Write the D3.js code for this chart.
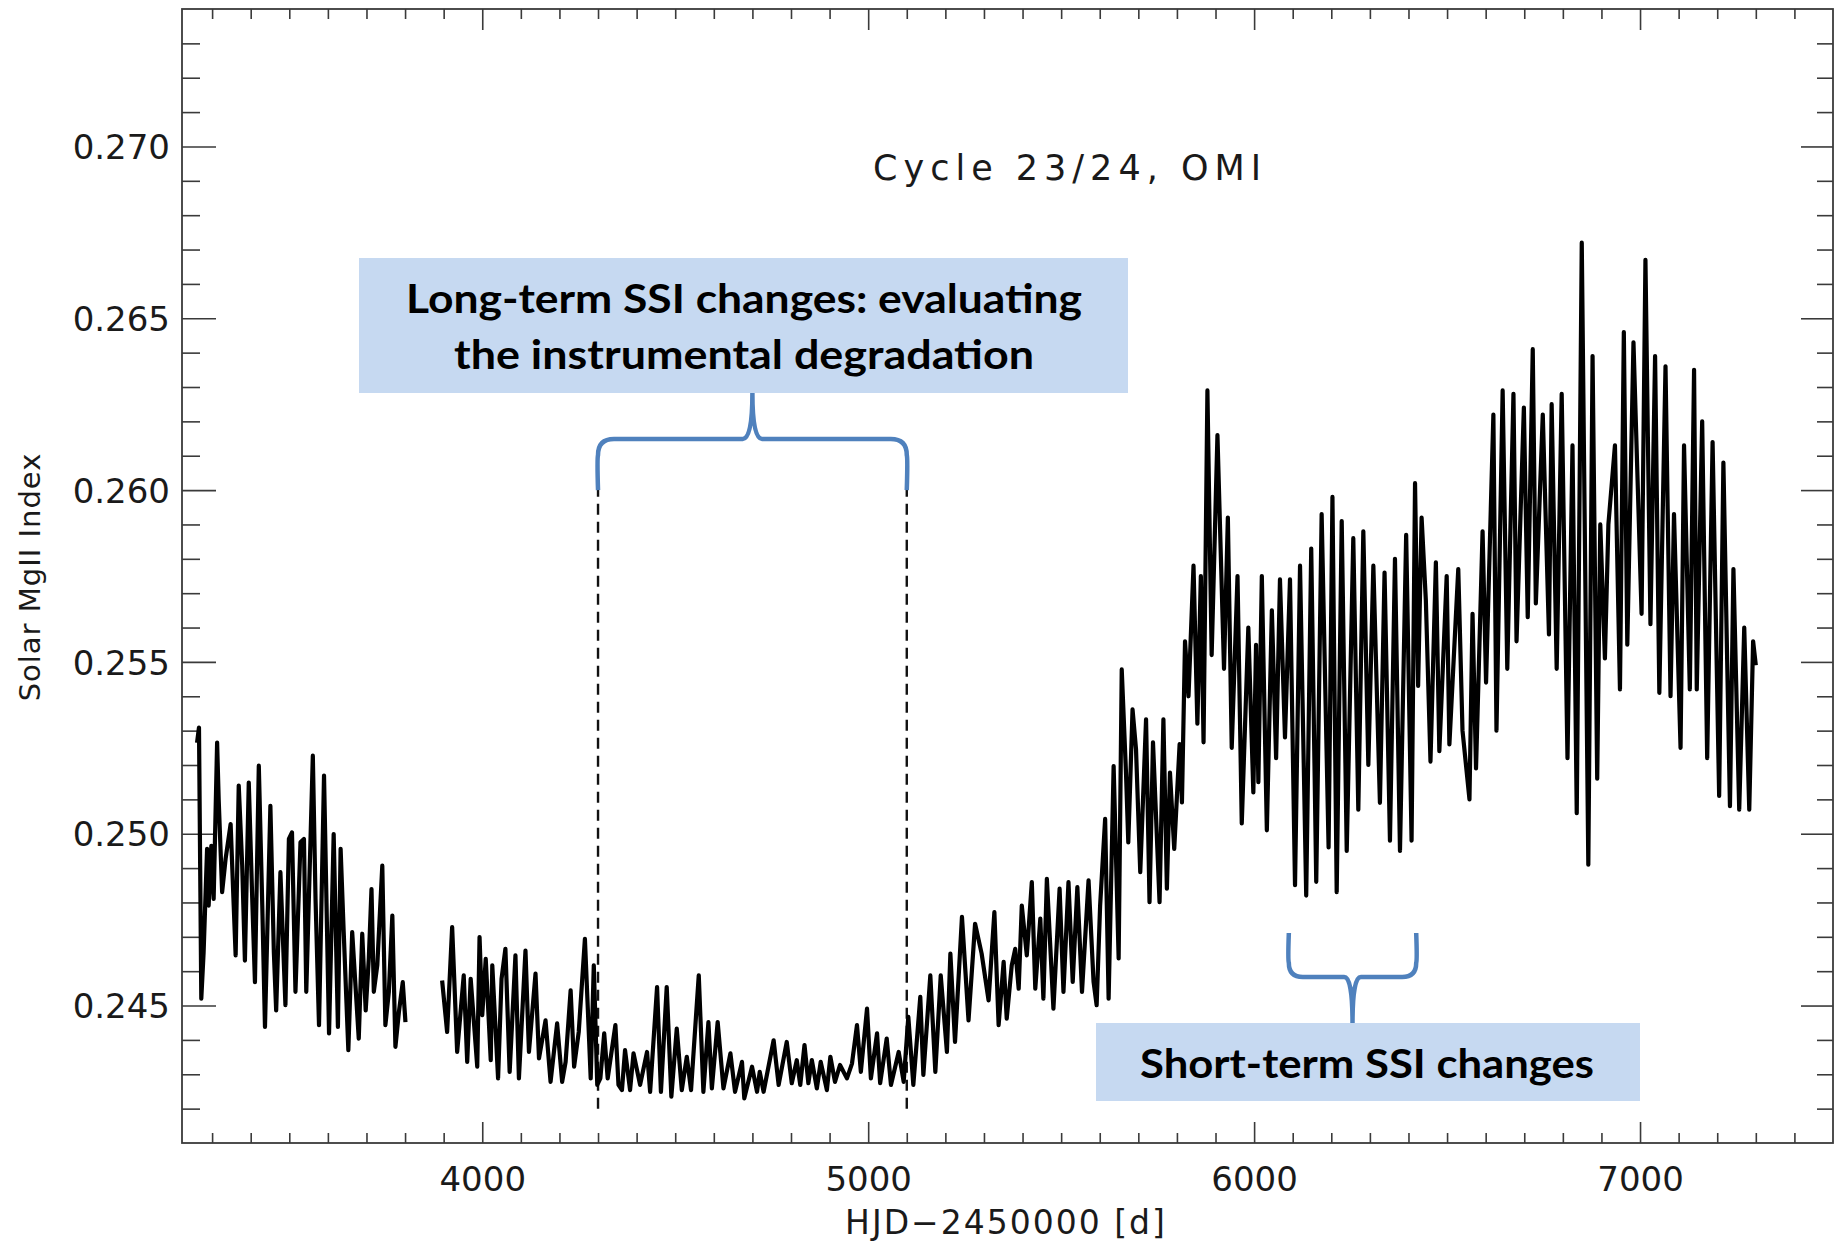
<!DOCTYPE html>
<html>
<head>
<meta charset="utf-8">
<script src="https://cdn.jsdelivr.net/npm/d3@7/dist/d3.min.js"></script>
<style>
  body { margin: 0; background: #fff; }
  svg { display: block; }
  .axis-label { font-family: "DejaVu Sans", "Liberation Sans", sans-serif; fill: #1a1a1a; }
  .note { font-family: Lato, "Open Sans", sans-serif; font-weight: 700; fill: #000; }
</style>
</head>
<body>
<svg id="chart" width="1834" height="1243"></svg>
<script>
// ──── Data ────
// Before the data gap
const segmentEarly = [
  [3261,0.25265],[3266,0.25309],[3272,0.24520],[3278,0.24655],[3287,0.24956],[3291,0.24791],[3298,0.24965],
  [3304,0.24810],[3313,0.25265],[3317,0.25101],[3326,0.24830],[3335,0.24927],[3348,0.25028],[3356,0.24791],
  [3361,0.24646],[3369,0.25140],[3378,0.24907],[3385,0.24631],[3395,0.25149],[3404,0.24810],[3411,0.24568],
  [3421,0.25198],[3430,0.24791],[3437,0.24438],[3451,0.25081],[3460,0.24655],[3466,0.24486],[3477,0.24888],
  [3490,0.24501],[3499,0.24985],[3507,0.25004],[3516,0.24540],[3529,0.24975],[3538,0.24985],[3544,0.24540],
  [3561,0.25227],[3568,0.24810],[3577,0.24443],[3590,0.25169],[3603,0.24419],[3615,0.24999],[3626,0.24438],
  [3633,0.24956],[3641,0.24714],[3653,0.24370],[3663,0.24714],[3672,0.24549],[3680,0.24404],[3689,0.24709],
  [3698,0.24486],[3706,0.24636],[3713,0.24839],[3719,0.24540],[3728,0.24617],[3741,0.24907],[3749,0.24443],
  [3758,0.24540],[3767,0.24762],[3775,0.24380],[3784,0.24481],[3794,0.24568],[3801,0.24452]
];

// After the data gap
const segmentLate = [
  [3896,0.24573],[3909,0.24423],[3922,0.24728],[3935,0.24365],[3952,0.24588],[3961,0.24336],[3970,0.24578],
  [3987,0.24322],[3993,0.24699],[4000,0.24472],[4009,0.24636],[4022,0.24341],[4026,0.24617],[4041,0.24288],
  [4050,0.24578],[4060,0.24665],[4071,0.24307],[4086,0.24646],[4095,0.24288],[4112,0.24660],[4121,0.24365],
  [4138,0.24593],[4147,0.24346],[4164,0.24457],[4177,0.24278],[4194,0.24448],[4207,0.24278],[4216,0.24336],
  [4229,0.24544],[4238,0.24322],[4250,0.24423],[4266,0.24694],[4281,0.24288],[4289,0.24617],[4298,0.24269],
  [4306,0.24288],[4316,0.24419],[4325,0.24288],[4345,0.24443],[4353,0.24269],[4362,0.24254],[4370,0.24370],
  [4383,0.24254],[4392,0.24361],[4409,0.24269],[4427,0.24365],[4435,0.24249],[4453,0.24554],[4463,0.24249],
  [4478,0.24554],[4490,0.24235],[4504,0.24433],[4517,0.24254],[4530,0.24351],[4541,0.24254],[4561,0.24588],
  [4573,0.24249],[4586,0.24452],[4595,0.24259],[4610,0.24452],[4625,0.24259],[4643,0.24361],[4655,0.24249],
  [4673,0.24336],[4679,0.24230],[4699,0.24322],[4712,0.24249],[4719,0.24307],[4729,0.24249],[4755,0.24399],
  [4768,0.24269],[4789,0.24394],[4802,0.24274],[4815,0.24341],[4824,0.24269],[4835,0.24385],[4845,0.24274],
  [4854,0.24341],[4867,0.24259],[4877,0.24336],[4893,0.24254],[4902,0.24351],[4914,0.24278],[4927,0.24327],
  [4945,0.24288],[4958,0.24331],[4971,0.24443],[4981,0.24307],[4997,0.24491],[5007,0.24288],[5023,0.24419],
  [5031,0.24274],[5048,0.24404],[5059,0.24269],[5079,0.24365],[5092,0.24278],[5104,0.24467],[5117,0.24269],
  [5135,0.24525],[5143,0.24298],[5161,0.24588],[5174,0.24307],[5188,0.24588],[5204,0.24365],[5213,0.24651],
  [5225,0.24394],[5243,0.24758],[5260,0.24457],[5277,0.24738],[5294,0.24651],[5312,0.24515],[5327,0.24772],
  [5338,0.24443],[5351,0.24627],[5359,0.24462],[5372,0.24617],[5381,0.24665],[5390,0.24549],[5398,0.24791],
  [5411,0.24646],[5424,0.24859],[5433,0.24549],[5446,0.24753],[5454,0.24520],[5463,0.24869],[5480,0.24491],
  [5496,0.24840],[5506,0.24540],[5519,0.24859],[5530,0.24569],[5542,0.24845],[5554,0.24540],[5571,0.24864],
  [5584,0.24569],[5592,0.24501],[5601,0.24791],[5614,0.25043],[5623,0.24520],[5636,0.25197],[5649,0.24637],
  [5657,0.25478],[5668,0.25178],[5674,0.24975],[5685,0.25362],[5694,0.25246],[5705,0.24888],[5720,0.25333],
  [5729,0.24801],[5738,0.25266],[5755,0.24801],[5765,0.25333],[5774,0.24840],[5782,0.25178],[5793,0.24956],
  [5807,0.25261],[5813,0.25091],[5821,0.25560],[5830,0.25400],[5843,0.25780],[5853,0.25320],[5862,0.25750],
  [5869,0.25266],[5879,0.26290],[5890,0.25520],[5905,0.26160],[5922,0.25480],[5932,0.25920],[5942,0.25250],
  [5957,0.25750],[5968,0.25030],[5985,0.25600],[5998,0.25120],[6005,0.25550],[6011,0.25150],[6020,0.25750],
  [6033,0.25010],[6046,0.25650],[6057,0.25220],[6067,0.25740],[6080,0.25280],[6093,0.25740],[6106,0.24850],
  [6119,0.25780],[6135,0.24820],[6148,0.25830],[6161,0.24860],[6175,0.25930],[6193,0.24960],[6203,0.25980],
  [6214,0.24830],[6227,0.25910],[6240,0.24950],[6257,0.25860],[6270,0.25070],[6283,0.25880],[6296,0.25200],
  [6309,0.25780],[6326,0.25090],[6338,0.25760],[6352,0.24980],[6365,0.25800],[6378,0.24950],[6394,0.25870],
  [6408,0.24980],[6417,0.26020],[6425,0.25430],[6434,0.25920],[6445,0.25680],[6457,0.25210],[6471,0.25790],
  [6480,0.25240],[6499,0.25750],[6506,0.25260],[6529,0.25770],[6540,0.25300],[6558,0.25100],[6566,0.25640],
  [6575,0.25190],[6592,0.25880],[6601,0.25440],[6620,0.26220],[6628,0.25300],[6644,0.26290],[6656,0.25480],
  [6672,0.26280],[6680,0.25560],[6699,0.26240],[6709,0.25630],[6722,0.26410],[6730,0.25670],[6748,0.26220],
  [6764,0.25580],[6771,0.26250],[6784,0.25480],[6797,0.26280],[6812,0.25220],[6825,0.26130],[6836,0.25060],
  [6849,0.26720],[6866,0.24910],[6877,0.26390],[6889,0.25160],[6897,0.25900],[6909,0.25510],[6918,0.25900],
  [6935,0.26130],[6948,0.25420],[6958,0.26460],[6967,0.25550],[6983,0.26430],[7004,0.25640],[7014,0.26670],
  [7027,0.25610],[7039,0.26390],[7050,0.25410],[7066,0.26360],[7079,0.25400],[7088,0.25930],[7105,0.25250],
  [7114,0.26130],[7129,0.25420],[7140,0.26350],[7147,0.25420],[7161,0.26200],[7174,0.25220],[7188,0.26140],
  [7205,0.25110],[7216,0.26080],[7233,0.25080],[7242,0.25770],[7257,0.25070],[7270,0.25600],[7283,0.25070],
  [7293,0.25560],[7300,0.25490]
];

const yMajorTicks = [0.245, 0.250, 0.255, 0.260, 0.265, 0.270];
const xMajorTicks = [4000, 5000, 6000, 7000];

// Annotated ranges (days) and the levels of the braces (index units)
const longTermRange = [4300, 5100];
const shortTermRange = [6090, 6420];
const dashedSpan = [0.2420, 0.2600];

// ──── Layout ────
const frame = { left: 182, right: 1833, top: 9, bottom: 1143 };
const svg = d3.select("#chart");

const x = d3.scaleLinear().domain([3222, 7500]).range([frame.left, frame.right]);
const y = d3.scaleLinear().domain([0.241, 0.274]).range([frame.bottom, frame.top]);

const xMinor = d3.range(3300, 7500, 100).filter(d => !xMajorTicks.includes(d));
const yMinor = d3.range(242, 274).map(d => d / 1000).filter(d => !yMajorTicks.some(t => Math.abs(t - d) < 1e-9));

// ──── Axes (IDL style, inward ticks on all four sides) ────
function styleAxis(g) {
  g.select(".domain").remove();
  g.selectAll(".tick line").attr("stroke", "#3a3a3a").attr("stroke-width", 1.6);
}

svg.append("g").attr("transform", `translate(${frame.left},0)`)
  .call(d3.axisLeft(y).tickValues(yMinor).tickSize(-18).tickFormat("")).call(styleAxis);
svg.append("g").attr("transform", `translate(${frame.left},0)`)
  .call(d3.axisLeft(y).tickValues(yMajorTicks).tickSizeInner(-34).tickSizeOuter(0).tickPadding(12)
    .tickFormat(d3.format(".3f")))
  .call(styleAxis)
  .call(g => g.selectAll("text").attr("class", "axis-label").attr("font-size", 34).attr("dy", "0.36em"));

svg.append("g").attr("transform", `translate(${frame.right},0)`)
  .call(d3.axisRight(y).tickValues(yMinor).tickSize(-16).tickFormat("")).call(styleAxis);
svg.append("g").attr("transform", `translate(${frame.right},0)`)
  .call(d3.axisRight(y).tickValues(yMajorTicks).tickSize(-32).tickFormat("")).call(styleAxis);

svg.append("g").attr("transform", `translate(0,${frame.bottom})`)
  .call(d3.axisBottom(x).tickValues(xMinor).tickSize(-10).tickFormat("")).call(styleAxis);
svg.append("g").attr("transform", `translate(0,${frame.bottom})`)
  .call(d3.axisBottom(x).tickValues(xMajorTicks).tickSizeInner(-21).tickSizeOuter(0).tickPadding(24)
    .tickFormat(d3.format("d")))
  .call(styleAxis)
  .call(g => g.selectAll("text").attr("class", "axis-label").attr("font-size", 34));

svg.append("g").attr("transform", `translate(0,${frame.top})`)
  .call(d3.axisTop(x).tickValues(xMinor).tickSize(-10).tickFormat("")).call(styleAxis);
svg.append("g").attr("transform", `translate(0,${frame.top})`)
  .call(d3.axisTop(x).tickValues(xMajorTicks).tickSize(-21).tickFormat("")).call(styleAxis);

// Frame
svg.append("rect")
  .attr("x", frame.left).attr("y", frame.top)
  .attr("width", frame.right - frame.left).attr("height", frame.bottom - frame.top)
  .attr("fill", "none").attr("stroke", "#3a3a3a").attr("stroke-width", 1.8);

// Axis titles
svg.append("text")
  .attr("class", "axis-label")
  .attr("x", 1006).attr("y", 1234)
  .attr("text-anchor", "middle")
  .attr("font-size", 33)
  .attr("letter-spacing", 2)
  .text("HJD\u22122450000 [d]");

svg.append("text")
  .attr("class", "axis-label")
  .attr("transform", "translate(40,577) rotate(-90)")
  .attr("text-anchor", "middle")
  .attr("font-size", 29)
  .attr("letter-spacing", 1)
  .text("Solar MgII Index");

svg.append("text")
  .attr("class", "axis-label")
  .attr("x", 1070).attr("y", 180)
  .attr("text-anchor", "middle")
  .attr("font-size", 35)
  .attr("letter-spacing", 6)
  .text("Cycle 23/24, OMI");

// ──── Dashed markers of the long-term window ────
svg.selectAll("line.window")
  .data(longTermRange)
  .join("line")
  .attr("class", "window")
  .attr("x1", d => x(d)).attr("x2", d => x(d))
  .attr("y1", y(dashedSpan[0])).attr("y2", y(dashedSpan[1]))
  .attr("stroke", "#111").attr("stroke-width", 2.4)
  .attr("stroke-dasharray", "11,7");

// ──── Mg II series ────
const line = d3.line()
  .x(d => x(d[0]))
  .y(d => y(d[1]))
  .curve(d3.curveLinear);

svg.selectAll("path.series")
  .data([segmentEarly, segmentLate])
  .join("path")
  .attr("class", "series")
  .attr("d", line)
  .attr("fill", "none")
  .attr("stroke", "#000")
  .attr("stroke-width", 4.2)
  .attr("stroke-linejoin", "round");

// ──── Annotations ────
function brace(x1, x2, yEnd, yBar, yTip, r) {
  const xm = (x1 + x2) / 2;
  const s = Math.sign(yEnd - yBar);  // direction of the arms
  const p = d3.path();
  p.moveTo(x1, yEnd);
  p.quadraticCurveTo(x1 - 1, yBar + s * r * 1.2, x1, yBar + s * r);
  p.quadraticCurveTo(x1, yBar, x1 + r, yBar);
  p.lineTo(xm - r * 0.6, yBar);
  p.quadraticCurveTo(xm, yBar, xm, yTip);
  p.moveTo(x2, yEnd);
  p.quadraticCurveTo(x2 + 1, yBar + s * r * 1.2, x2, yBar + s * r);
  p.quadraticCurveTo(x2, yBar, x2 - r, yBar);
  p.lineTo(xm + r * 0.6, yBar);
  p.quadraticCurveTo(xm, yBar, xm, yTip);
  return p.toString();
}

const braceColor = "#4f81bd";
const boxFill = "#c6d9f1";

// Long-term box and brace
svg.append("rect").attr("x", 359).attr("y", 258).attr("width", 769).attr("height", 135).attr("fill", boxFill);
svg.append("path")
  .attr("d", brace(x(longTermRange[0]), x(longTermRange[1]), y(dashedSpan[1]), 439, 393, 16))
  .attr("fill", "none").attr("stroke", braceColor).attr("stroke-width", 4.5);
svg.append("text").attr("class", "note").attr("x", 744).attr("y", 313)
  .attr("text-anchor", "middle").attr("font-size", 41)
  .attr("textLength", 676).attr("lengthAdjust", "spacingAndGlyphs")
  .text("Long-term SSI changes: evaluating");
svg.append("text").attr("class", "note").attr("x", 744).attr("y", 369)
  .attr("text-anchor", "middle").attr("font-size", 41)
  .attr("textLength", 580).attr("lengthAdjust", "spacingAndGlyphs")
  .text("the instrumental degradation");

// Short-term box and brace
svg.append("rect").attr("x", 1096).attr("y", 1023).attr("width", 544).attr("height", 78).attr("fill", boxFill);
svg.append("path")
  .attr("d", brace(x(shortTermRange[0]), x(shortTermRange[1]), 933, 977, 1023, 14))
  .attr("fill", "none").attr("stroke", braceColor).attr("stroke-width", 4.5);
svg.append("text").attr("class", "note").attr("x", 1367).attr("y", 1078)
  .attr("text-anchor", "middle").attr("font-size", 41)
  .attr("textLength", 454).attr("lengthAdjust", "spacingAndGlyphs")
  .text("Short-term SSI changes");
</script>
</body>
</html>
